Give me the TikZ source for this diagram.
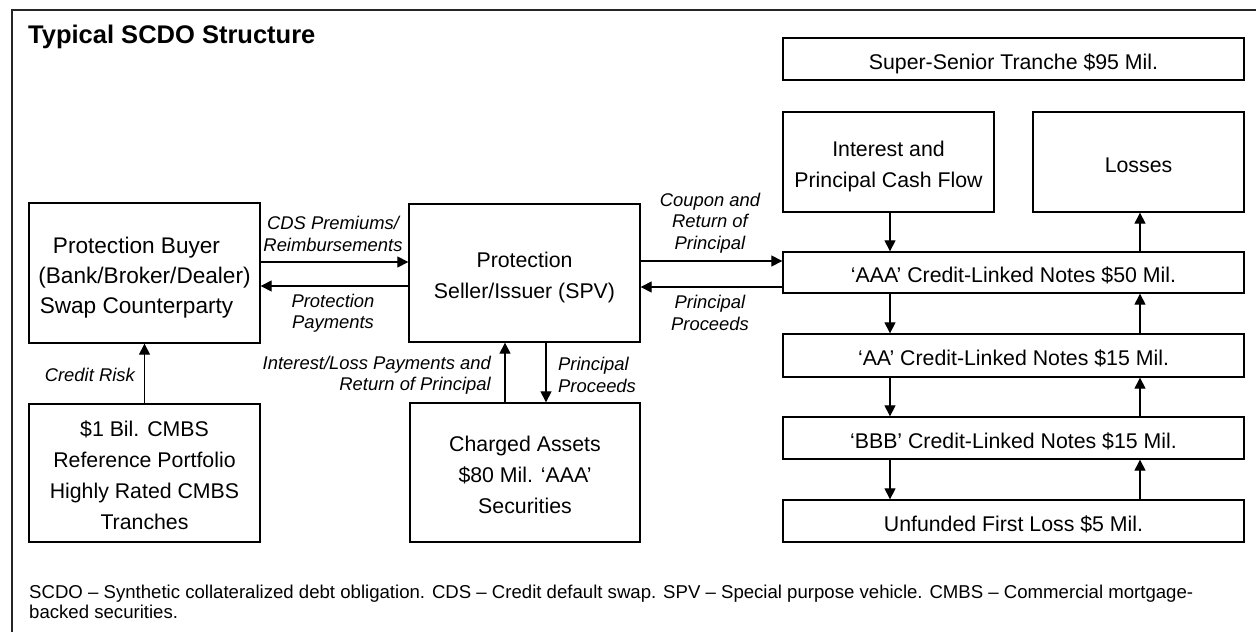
\documentclass[tikz,border=0pt]{standalone}
\usepackage{fontspec}
\setmainfont{Liberation Sans}
\usetikzlibrary{arrows.meta}
\newcommand\bxfont{\fontsize{21.3}{31}\selectfont}
\newcommand\byfont{\fontsize{22.6}{30}\selectfont}
\newcommand\lbfont{\fontsize{18.4}{21.5}\selectfont\itshape}
\newcommand\ftfont{\fontsize{18.6}{20}\selectfont}
\newcommand\ttlfont{\fontsize{25.5}{30}\selectfont\bfseries}
% fixed first-line height and last-line depth so that box texts sit alike
\newcommand\bt{\rule{0pt}{25.3pt}}
\newcommand\bb{\rule[-5pt]{0pt}{5pt}}
\begin{document}
\begin{tikzpicture}[x=1pt,y=-1pt,
  box/.style={draw, line width=1.3pt, inner sep=0pt, align=center, font=\bxfont},
  lbl/.style={font=\lbfont, inner sep=0pt},
  arr/.style={-{Triangle[length=11pt,width=11pt]}, line width=1.1pt}]
\useasboundingbox (0,0) rectangle (1256,632);
% outer frame
\draw[line width=1.3pt, black!85] (12,632) -- (12,10) -- (1256,10);
% title
\node[font=\ttlfont, anchor=base west, inner sep=0pt] (title) at (28,43) {Typical SCDO Structure};
% boxes
\node[box, minimum width=461pt, minimum height=42pt] (ss) at (1013.5,59) {\bt Super-Senior Tranche \$95 Mil.\bb};
\node[box, minimum width=211pt, minimum height=100pt] (icf) at (888.5,162) {\bt Interest and\\Principal Cash Flow\bb};
\node[box, minimum width=211pt, minimum height=100pt] (loss) at (1138.5,162) {\bt Losses\bb};
\node[box, minimum width=461pt, minimum height=41pt] (aaa) at (1013.5,272.5) {\bt ‘AAA’ Credit-Linked Notes \$50 Mil.\bb};
\node[box, minimum width=461pt, minimum height=43pt] (aa) at (1013.5,355.5) {\bt ‘AA’ Credit-Linked Notes \$15 Mil.\bb};
\node[box, minimum width=461pt, minimum height=42pt] (bbb) at (1013.5,438) {\bt ‘BBB’ Credit-Linked Notes \$15 Mil.\bb};
\node[box, minimum width=461pt, minimum height=42pt] (ufl) at (1013.5,521) {\bt Unfunded First Loss \$5 Mil.\bb};
\node[box, font=\byfont, minimum width=231pt, minimum height=140pt] (buyer) at (144.5,273) {\bt Protection Buyer\hspace*{16pt}\\(Bank/Broker/Dealer)\hspace*{16pt}\\Swap Counterparty\hspace*{16pt}\bb};
\node[box, minimum width=231pt, minimum height=138pt] (cmbs) at (144.5,473) {\bt \$1 Bil. CMBS\\Reference Portfolio\\Highly Rated CMBS\\Tranches\bb};
\node[box, minimum width=231pt, minimum height=138pt] (spv) at (524.5,273) {\bt Protection\\Seller/Issuer (SPV)\bb};
\node[box, minimum width=230pt, minimum height=139pt] (ca) at (525,472.5) {\bt Charged Assets\\\$80 Mil. ‘AAA’\\Securities\bb};
% horizontal connectors
\coordinate (b1) at ([yshift=11pt]buyer.east);
\coordinate (s2) at ([yshift=-13pt]spv.west);
\coordinate (s3) at ([yshift=12pt]spv.east);
\coordinate (a4) at ([yshift=-14.5pt]aaa.west);
\draw[arr] (b1) -- (b1 -| spv.west);
\draw[arr] (s2) -- (s2 -| buyer.east);
\draw[arr] (s3) -- (s3 -| aaa.west);
\draw[arr] (a4) -- (a4 -| spv.east);
% vertical connectors left/middle
\draw[arr] (cmbs.north) -- (buyer.south);
\coordinate (c5) at ([xshift=-20pt]ca.north);
\coordinate (s6) at ([xshift=21.5pt]spv.south);
\draw[arr] (c5) -- (c5 |- spv.south);
\draw[arr] (s6) -- (s6 |- ca.north);
% tranche column
\coordinate (dx) at (890,0);
\coordinate (ux) at (1140,0);
\draw[arr] (dx |- icf.south) -- (dx |- aaa.north);
\draw[arr] (ux |- aaa.north) -- (ux |- loss.south);
\draw[arr] (dx |- aaa.south) -- (dx |- aa.north);
\draw[arr] (ux |- aa.north) -- (ux |- aaa.south);
\draw[arr] (dx |- aa.south) -- (dx |- bbb.north);
\draw[arr] (ux |- bbb.north) -- (ux |- aa.south);
\draw[arr] (dx |- bbb.south) -- (dx |- ufl.north);
\draw[arr] (ux |- ufl.north) -- (ux |- bbb.south);
% labels
\node[lbl, align=center] (l1) at (333,234) {CDS Premiums/\\Reimbursements};
\node[lbl, align=center] (l2) at (333,313) {Protection\\Payments};
\node[lbl, anchor=east] (l3) at (135,375) {Credit Risk};
\node[lbl, align=right, anchor=east] (l4) at (491,375) {Interest/Loss Payments and\\Return of Principal};
\node[lbl, align=left, anchor=west] (l5) at (558,375) {Principal\\Proceeds};
\node[lbl, align=center] (l6) at (710,223) {Coupon and\\Return of\\Principal};
\node[lbl, align=center] (l7) at (710,313) {Principal\\Proceeds};
% footnote
\node[font=\ftfont, anchor=base west, inner sep=0pt] (fn1) at (29,598) {SCDO – Synthetic collateralized debt obligation. CDS – Credit default swap. SPV – Special purpose vehicle. CMBS – Commercial mortgage-};
\node[font=\ftfont, anchor=base west, inner sep=0pt] (fn2) at (29,618) {backed securities.};
\end{tikzpicture}
\end{document}
